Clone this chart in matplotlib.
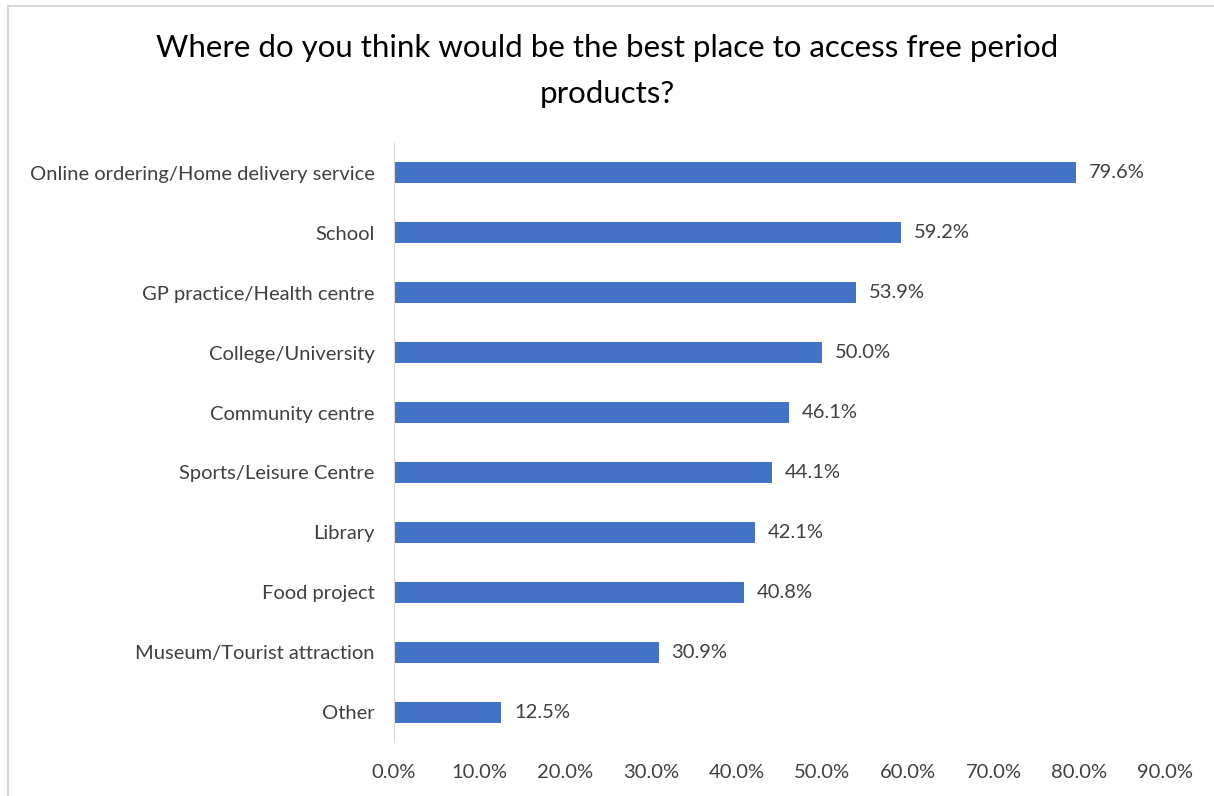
import matplotlib.pyplot as plt
from matplotlib.lines import Line2D

categories = ['Online ordering/Home delivery service', 'School', 'GP practice/Health centre',
              'College/University', 'Community centre', 'Sports/Leisure Centre', 'Library',
              'Food project', 'Museum/Tourist attraction', 'Other']
values = [79.6, 59.2, 53.9, 50.0, 46.1, 44.1, 42.1, 40.8, 30.9, 12.5]
xticks = [0, 10, 20, 30, 40, 50, 60, 70, 80, 90]

plt.rcParams['font.family'] = ['Lato', 'DejaVu Sans']

fig = plt.figure(figsize=(12.14, 7.96), dpi=100)
ax = fig.add_axes([394 / 1214, 1 - 742 / 796, (1165 - 394) / 1214, (742 - 143) / 796])

pos = list(range(len(categories)))
ax.barh(pos, values, height=0.35, color='#4472C4')
for p, v in zip(pos, values):
    ax.text(v + 1.5, p, '%.1f%%' % v, va='center', ha='left', fontsize=14.5, color='#404040')

ax.set_ylim(len(categories) - 0.5, -0.5)
ax.set_xlim(0, 90)
ax.set_yticks(pos)
ax.set_yticklabels(categories, fontsize=14.5, color='#404040')
ax.set_xticks(xticks)
ax.set_xticklabels(['%.1f%%' % t for t in xticks], fontsize=14.5, color='#404040')
ax.tick_params(length=0, pad=14, axis='y')
ax.tick_params(length=0, pad=16, axis='x')
for s in ['top', 'right', 'bottom']:
    ax.spines[s].set_visible(False)
ax.spines['left'].set_color('#d9d9d9')

fig.text(0.5, 1 - 48 / 796, 'Where do you think would be the best place to access free period',
         ha='center', va='center', fontsize=22.5, color='#000000')
fig.text(0.5, 1 - 94 / 796, 'products?', ha='center', va='center', fontsize=22.5, color='#000000')

# outer chart border (left and top visible)
fig.add_artist(Line2D([8 / 1214, 8 / 1214], [0, 1 - 6 / 796], color='#d9d9d9', lw=1.5,
                      transform=fig.transFigure))
fig.add_artist(Line2D([8 / 1214, 1], [1 - 6 / 796, 1 - 6 / 796], color='#d9d9d9', lw=1.5,
                      transform=fig.transFigure))

fig.savefig('out.png', dpi=100)
